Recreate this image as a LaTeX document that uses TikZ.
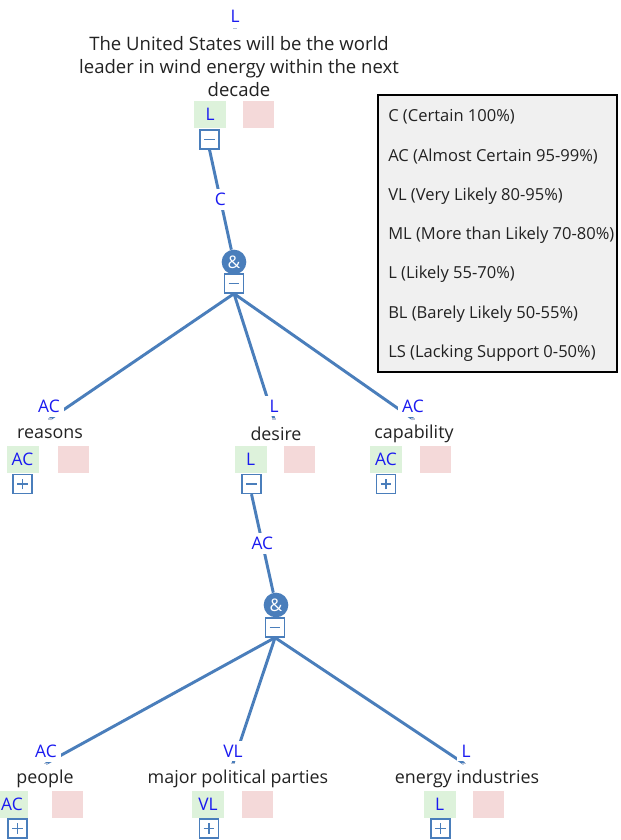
\documentclass[tikz,border=0pt]{standalone}
\usepackage{fontspec}
\setmainfont{Open Sans}
\usepackage{tikz}
\usetikzlibrary{backgrounds}

\definecolor{linkblue}{HTML}{4A7EBB}
\definecolor{rateblue}{HTML}{1A1AF0}
\definecolor{greenfill}{HTML}{DDF2DB}
\definecolor{pinkfill}{HTML}{F4D9D9}
\definecolor{legendfill}{HTML}{F0F0F0}
\definecolor{inkgray}{HTML}{222222}
\definecolor{tickgray}{HTML}{B8C2D6}

\tikzset{
  link/.style={draw=linkblue, line width=2.2pt},
  rate/.style={text=rateblue, fill=white, inner sep=3.2pt, font=\fontsize{13}{15}\selectfont},
  tick/.style={draw=tickgray, line width=0.8pt},
  claim/.style={text=inkgray, align=center, inner sep=0pt, font=\fontsize{13.4}{17.25}\selectfont},
  title/.style={claim, font=\fontsize{13.9}{17.25}\selectfont},
  greenbox/.style={fill=greenfill, minimum width=24pt, minimum height=20.25pt, inner sep=0pt, text=rateblue, font=\fontsize{13}{15}\selectfont},
  pinkbox/.style={fill=pinkfill, minimum width=23.25pt, minimum height=20.25pt, inner sep=0pt},
  togglebox/.style={draw=linkblue, line width=1.2pt, fill=white, minimum size=14pt, inner sep=0pt},
  minusbox/.style={togglebox, path picture={\draw[linkblue, line width=1.3pt] ([xshift=-4pt]path picture bounding box.center) -- ([xshift=4pt]path picture bounding box.center);}},
  plusbox/.style={togglebox, path picture={\draw[linkblue, line width=1.3pt] ([xshift=-4pt]path picture bounding box.center) -- ([xshift=4pt]path picture bounding box.center) ([yshift=-4pt]path picture bounding box.center) -- ([yshift=4pt]path picture bounding box.center);}},
  andnode/.style={circle, fill=linkblue, minimum size=18.5pt, inner sep=0pt, text=white, font=\fontsize{13}{15}\selectfont},
  legendtext/.style={anchor=west, text=inkgray, inner sep=0pt, font=\fontsize{12.4}{15}\selectfont}
}

\begin{document}
\begin{tikzpicture}[x=0.75pt,y=-0.75pt]
    \useasboundingbox (0,0) rectangle (621,840);

    % main claim
    \node[rate] (r0) at (235,16) {L};
    \coordinate (t0) at (235,28.5);
    \draw[tick] ([xshift=-1.5pt]t0) -- ([xshift=1.5pt]t0);
    \node[title] (c0) at (239,67) {The United States will be the world\\leader in wind energy within the next\\decade};
    \node[greenbox] (g0) at (210,114.5) {L};
    \node[pinkbox] (p0) at (258.5,114.5) {};
    \node[minusbox] (m0) at (209.5,139.5) {};
    \node[andnode] (and0) at (234,262) {\&};
    \node[minusbox] (m1) at (234,283.5) {};

    % reasons
    \node[rate] (r1) at (49,406) {AC};
    \coordinate (t1) at (50,419);
    \draw[tick] ([xshift=-1.5pt]t1) -- ([xshift=1.5pt]t1);
    \node[claim] (c1) at (50,434) {reasons};
    \node[greenbox] (g1) at (22.5,459.5) {AC};
    \node[pinkbox] (p1) at (73.5,459.5) {};
    \node[plusbox] (m3) at (22.5,484) {};

    % desire
    \node[rate] (r2) at (274,406) {L};
    \coordinate (t2) at (274,419);
    \draw[tick] ([xshift=-1.5pt]t2) -- ([xshift=1.5pt]t2);
    \node[claim] (c2) at (276,434) {desire};
    \node[greenbox] (g2) at (250.5,459.5) {L};
    \node[pinkbox] (p2) at (299.5,459.5) {};
    \node[minusbox] (m2) at (251.5,484) {};
    \node[andnode] (and1) at (276,605) {\&};
    \node[minusbox] (m4) at (275,627.5) {};

    % capability
    \node[rate] (r3) at (413,406) {AC};
    \coordinate (t3) at (413,419);
    \draw[tick] ([xshift=-1.5pt]t3) -- ([xshift=1.5pt]t3);
    \node[claim] (c3) at (414,434) {capability};
    \node[greenbox] (g3) at (386,459.5) {AC};
    \node[pinkbox] (p3) at (435.5,459.5) {};
    \node[plusbox] (m5) at (386,484) {};

    % people
    \node[rate] (r4) at (46,751) {AC};
    \coordinate (t4) at (46,763.5);
    \draw[tick] ([xshift=-1.5pt]t4) -- ([xshift=1.5pt]t4);
    \node[claim] (c4) at (45,779) {people};
    \node[greenbox] (g4) at (12,804.5) {AC};
    \node[pinkbox] (p4) at (67.5,804.5) {};
    \node[plusbox] (m6) at (17.5,828.5) {};

    % major political parties
    \node[rate] (r5) at (233,751) {VL};
    \coordinate (t5) at (233,763.5);
    \draw[tick] ([xshift=-1.5pt]t5) -- ([xshift=1.5pt]t5);
    \node[claim] (c5) at (238,779) {major political parties};
    \node[greenbox] (g5) at (208,804.5) {VL};
    \node[pinkbox] (p5) at (257.5,804.5) {};
    \node[plusbox] (m7) at (209,828.5) {};

    % energy industries
    \node[rate] (r6) at (466,751) {L};
    \coordinate (t6) at (464,763.5);
    \draw[tick] ([xshift=-1.5pt]t6) -- ([xshift=1.5pt]t6);
    \node[claim] (c6) at (467,779) {energy industries};
    \node[greenbox] (g6) at (439.5,804.5) {L};
    \node[pinkbox] (p6) at (488.5,804.5) {};
    \node[plusbox] (m8) at (440.5,828.5) {};

    % connectors
    \begin{scope}[on background layer]
        \draw[link] (m0.south) -- node[rate] (r7) {C} (and0);
        \draw[link] (m1.south) -- (t1);
        \draw[link] (m1.south) -- (t2);
        \draw[link] (m1.south) -- (t3);
        \draw[link] (m2.south) -- node[rate] (r8) {AC} (and1);
        \draw[link] (m4.south) -- (t4);
        \draw[link] (m4.south) -- (t5);
        \draw[link] (m4.south) -- (t6);
    \end{scope}

    % legend
    \draw[fill=legendfill, line width=1.1pt] (378,95) rectangle (617,372);
    \foreach \txt [count=\i from 0] in {C (Certain 100\%), AC (Almost Certain 95-99\%), VL (Very Likely 80-95\%), ML (More than Likely 70-80\%), L (Likely 55-70\%), BL (Barely Likely 50-55\%), LS (Lacking Support 0-50\%)}
        \node[legendtext] (leg\i) at (388,117+39.4*\i) {\txt};
\end{tikzpicture}
\end{document}
